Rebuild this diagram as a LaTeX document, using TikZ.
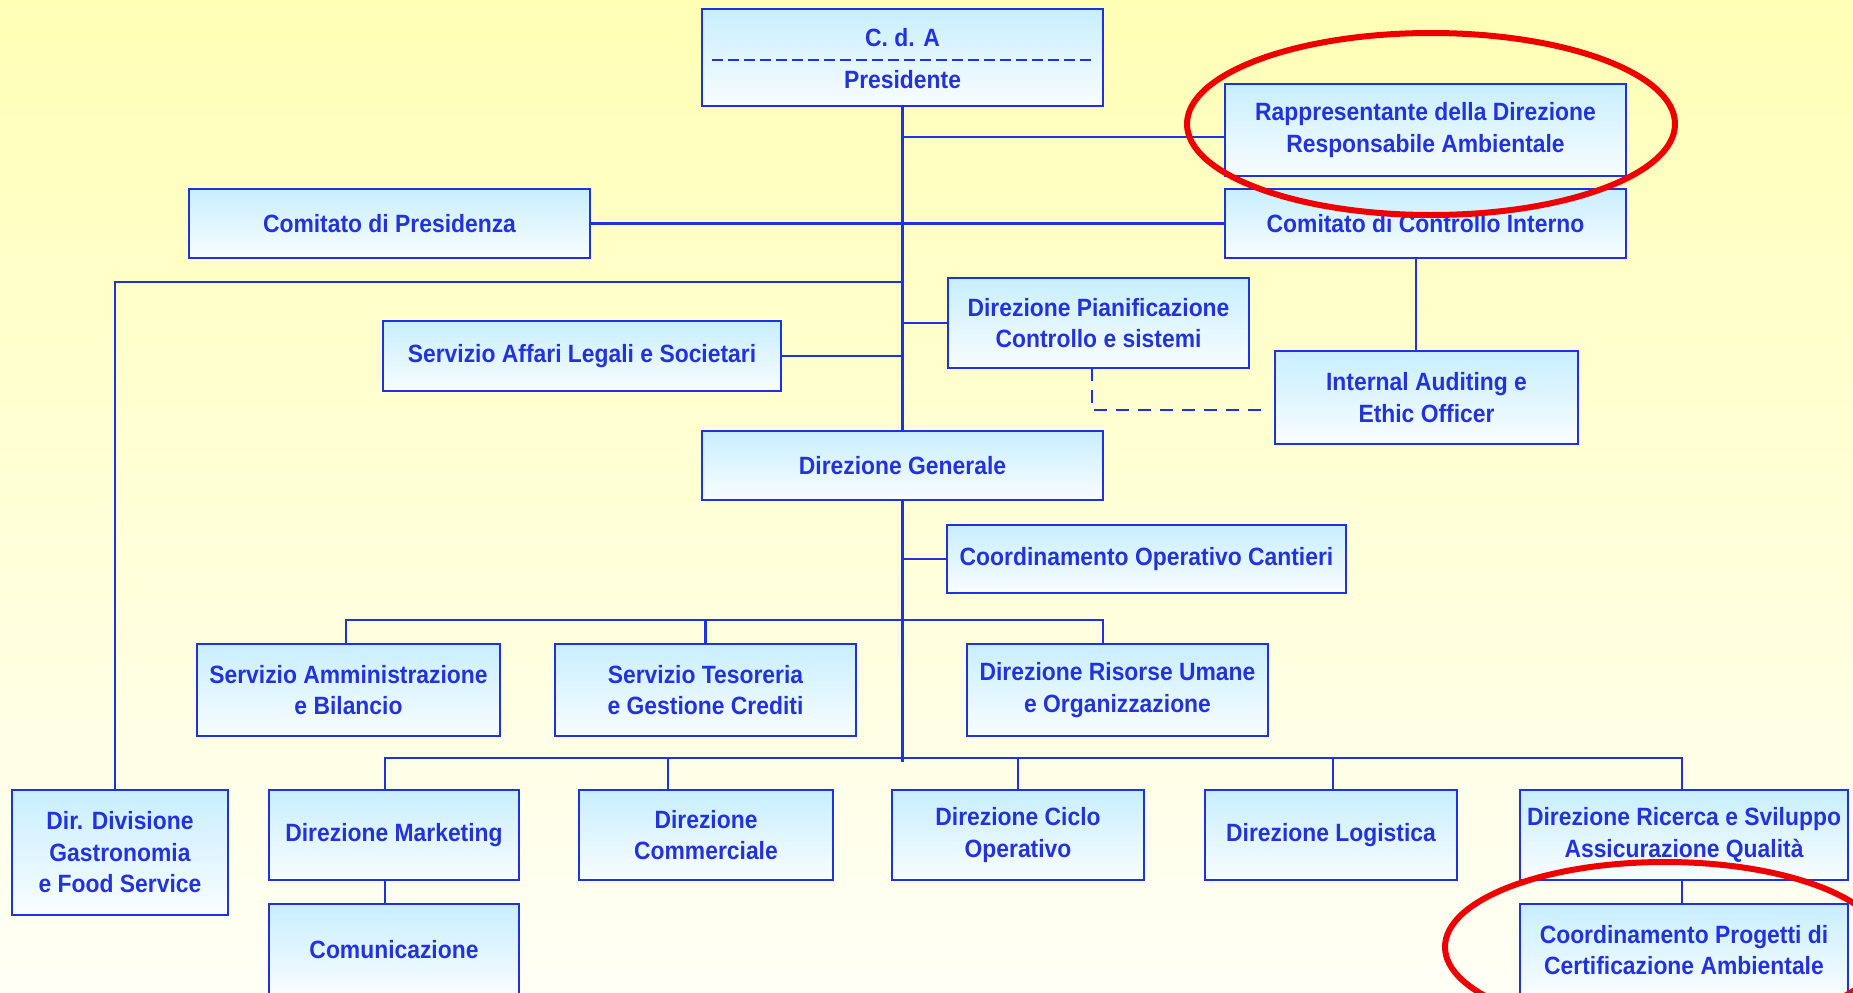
\documentclass[tikz,border=0pt]{standalone}
\usepackage{fontspec}
\newfontfamily\orgfont{Liberation Sans}[FakeStretch=0.915]
\usetikzlibrary{calc}
\pgfdeclarelayer{bglayer}
\pgfdeclarelayer{linelayer}
\pgfdeclarelayer{toplayer}
\pgfsetlayers{bglayer,linelayer,main,toplayer}
\definecolor{bgtop}{HTML}{FFFFB6}
\definecolor{bgbot}{HTML}{FFFFF6}
\definecolor{boxtop}{HTML}{C8EEFF}
\definecolor{boxbot}{HTML}{F9FDFF}
\definecolor{orgblue}{HTML}{1E32E4}
\definecolor{orgtext}{HTML}{2233DD}
\definecolor{ringred}{HTML}{EE0000}
\begin{document}
\begin{tikzpicture}[x=1pt,y=-1pt,
  orgbox/.style={draw=orgblue, line width=2.8pt, top color=boxtop, bottom color=boxbot,
    text=orgtext, font=\orgfont\bfseries\fontsize{25}{31.5}\selectfont, align=center,
    inner sep=0pt, outer sep=0pt},
  orgtxt/.style={text=orgtext, font=\orgfont\bfseries\fontsize{25}{31.5}\selectfont, inner sep=0pt},
  link/.style={draw=orgblue, line width=2.8pt},
  dashlink/.style={draw=orgblue, line width=2.8pt, dash pattern=on 13pt off 9pt},
  ring/.style={draw=ringred, line width=6pt}
]
\useasboundingbox (0,0) rectangle (1853,993);
\clip (0,0) rectangle (1853,993);
\begin{pgfonlayer}{bglayer}
\shade[top color=bgtop, bottom color=bgbot] (0,0) rectangle (1853,993);
\end{pgfonlayer}

% boxes
\node[orgbox, minimum width=401pt, minimum height=97pt] (cda) at (902.5,57.5) {};
\node[orgbox, minimum width=401pt, minimum height=92pt] (rapp) at (1425.5,130) {Rappresentante della Direzione\\Responsabile Ambientale};
\node[orgbox, minimum width=401pt, minimum height=69pt] (compres) at (389.5,223.5) {Comitato di Presidenza};
\node[orgbox, minimum width=401pt, minimum height=69pt] (ccint) at (1425.5,223.5) {Comitato di Controllo Interno};
\node[orgbox, minimum width=301pt, minimum height=90pt] (pian) at (1098.5,323) {Direzione Pianificazione\\Controllo e sistemi};
\node[orgbox, minimum width=398pt, minimum height=70pt] (aff) at (582,356) {Servizio Affari Legali e Societari};
\node[orgbox, minimum width=303pt, minimum height=93pt] (intaud) at (1426.5,397.5) {Internal Auditing e\\Ethic Officer};
\node[orgbox, minimum width=401pt, minimum height=69pt] (dg) at (902.5,465.5) {Direzione Generale};
\node[orgbox, minimum width=399pt, minimum height=68pt] (coord) at (1146.5,559) {Coordinamento Operativo Cantieri};
\node[orgbox, minimum width=303pt, minimum height=92pt] (amm) at (348.5,690) {Servizio Amministrazione\\e Bilancio};
\node[orgbox, minimum width=301pt, minimum height=92pt] (tes) at (705.5,690) {Servizio Tesoreria\\e Gestione Crediti};
\node[orgbox, minimum width=301pt, minimum height=92pt] (rum) at (1117.5,690) {Direzione Risorse Umane\\e Organizzazione};
\node[orgbox, minimum width=216pt, minimum height=125pt] (gast) at (120,852.5) {Dir. Divisione\\Gastronomia\\e Food Service};
\node[orgbox, minimum width=250pt, minimum height=90pt] (mkt) at (394,835) {Direzione Marketing};
\node[orgbox, minimum width=254pt, minimum height=90pt] (comm) at (706,835) {Direzione\\Commerciale};
\node[orgbox, minimum width=252pt, minimum height=90pt] (ciclo) at (1018,835) {Direzione Ciclo\\Operativo};
\node[orgbox, minimum width=252pt, minimum height=90pt] (logi) at (1331,835) {Direzione Logistica};
\node[orgbox, minimum width=328pt, minimum height=90pt] (ric) at (1684,835) {Direzione Ricerca e Sviluppo\\Assicurazione Qualità};
\node[orgbox, minimum width=250pt, minimum height=92pt] (comu) at (394,950) {Comunicazione};
\node[orgbox, minimum width=328pt, minimum height=92pt] (cpro) at (1684,950) {Coordinamento Progetti di\\Certificazione Ambientale};

% C.d.A contents
\node[orgtxt] (cdatxt) at (902.5,38) {C. d. A};
\node[orgtxt] (prestxt) at (902.5,80) {Presidente};
\draw[orgblue, line width=2.8pt, dash pattern=on 11pt off 5pt] (712,60) -- (1092,60);

% connectors
\coordinate (tend) at (902.5,762);
\coordinate (trapp) at (902.5,137);
\coordinate (tleft) at (902.5,282);
\coordinate (gastdrop) at (115,282);
\coordinate (bA) at (346,620);
\coordinate (bB) at (1103,620);
\coordinate (cA) at (385,758);
\coordinate (cB) at (1682,758);
\coordinate (cc1) at (1416,258);
\coordinate (pd1) at (1092,368);
\coordinate (pd2) at (1092,410);
\coordinate (pd3) at (1265,410);
\begin{pgfonlayer}{linelayer}
\draw[link] (cda.south) -- (tend);
\draw[link] (trapp) -- (trapp -| rapp.west);
\draw[link] (compres.east) -- (ccint.west);
\draw[link] (tleft) -- (gastdrop) -- (gastdrop |- gast.north);
\draw[link] (cda.south |- pian.west) -- (pian.west);
\draw[link] (aff.east) -- (cda.south |- aff.east);
\draw[link] (cc1) -- (cc1 |- intaud.north);
\draw[dashlink] (pd1) -- (pd2) -- (pd3);
\draw[link] (cda.south |- coord.west) -- (coord.west);
\draw[link] (bA |- amm.north) -- (bA) -- (bB) -- (bB |- rum.north);
\draw[link] (tes.north |- bA) -- (tes.north);
\draw[link] (cA |- mkt.north) -- (cA) -- (cB) -- (cB |- ric.north);
\draw[link] (668,758) -- (668,790);
\draw[link] (ciclo.north |- cA) -- (ciclo.north);
\draw[link] (1333,758) -- (1333,790);
\draw[link] (cA |- mkt.south) -- (cA |- comu.north);
\draw[link] (cB |- ric.south) -- (cB |- cpro.north);
\end{pgfonlayer}

% red rings
\begin{pgfonlayer}{toplayer}
\draw[ring] (1431,124) ellipse [x radius=244, y radius=91];
\draw[ring] (1665,947) ellipse [x radius=220, y radius=85];
\end{pgfonlayer}
\end{tikzpicture}
\end{document}
